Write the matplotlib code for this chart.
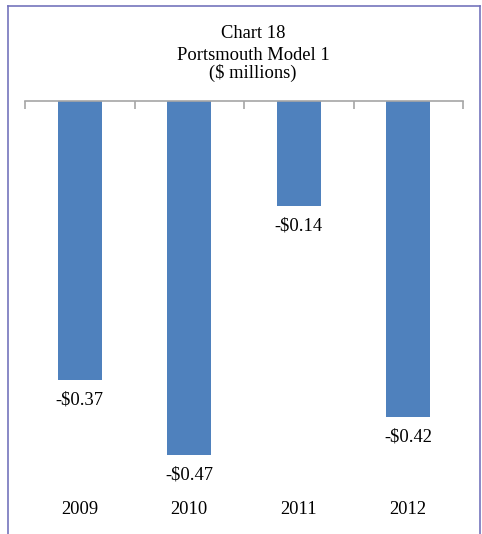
import matplotlib.pyplot as plt
from matplotlib.lines import Line2D

years = ["2009", "2010", "2011", "2012"]
values = [-0.37, -0.47, -0.14, -0.42]
labels = ["-$0.37", "-$0.47", "-$0.14", "-$0.42"]

plt.rcParams['font.family'] = ['Liberation Serif', 'DejaVu Serif']

W, H = 482, 534
fig = plt.figure(figsize=(W / 100, H / 100), dpi=100)
ax = fig.add_axes([25 / W, 1 - 495 / H, 438 / W, 394 / H])

x = range(len(years))
ax.bar(x, values, width=0.4, color='#4f81bd')
for xi, v, lab in zip(x, values, labels):
    ax.annotate(lab, (xi, v), xytext=(0, -20), textcoords='offset pixels',
                ha='center', va='center', fontsize=13.3)

ax.set_xlim(-0.5, 3.5)
ax.set_ylim(-0.523, 0)
for s in ['left', 'right', 'bottom']:
    ax.spines[s].set_visible(False)
ax.spines['top'].set_color('#a6a6a6')
ax.spines['top'].set_linewidth(1.2)

ax.set_xticks(list(x))
ax.set_xticklabels(years, fontsize=13.3)
ax.tick_params(axis='x', which='major', length=0, pad=4)
ax.set_xticks([-0.5, 0.5, 1.5, 2.5, 3.5], minor=True)
ax.tick_params(axis='x', which='minor', top=True, bottom=False,
               direction='in', length=6, color='#a6a6a6', width=1.2)
ax.set_yticks([])

tx = 253 / W
fig.text(tx, 1 - 33 / H, "Chart 18", ha='center', va='center', fontsize=13.3)
fig.text(tx, 1 - 56 / H, "Portsmouth Model 1", ha='center', va='center', fontsize=13.3)
fig.text(tx, 1 - 73 / H, "($ millions)", ha='center', va='center', fontsize=13.3)

# frame around the chart (left, top, right)
bc = '#7474bc'
fig.add_artist(Line2D([8 / W, 8 / W], [0, 1 - 6 / H], color=bc, lw=1.2))
fig.add_artist(Line2D([8 / W, 480 / W], [1 - 6 / H, 1 - 6 / H], color=bc, lw=1.2))
fig.add_artist(Line2D([480 / W, 480 / W], [0, 1 - 6 / H], color=bc, lw=1.2))

fig.savefig("out.png", dpi=100)
